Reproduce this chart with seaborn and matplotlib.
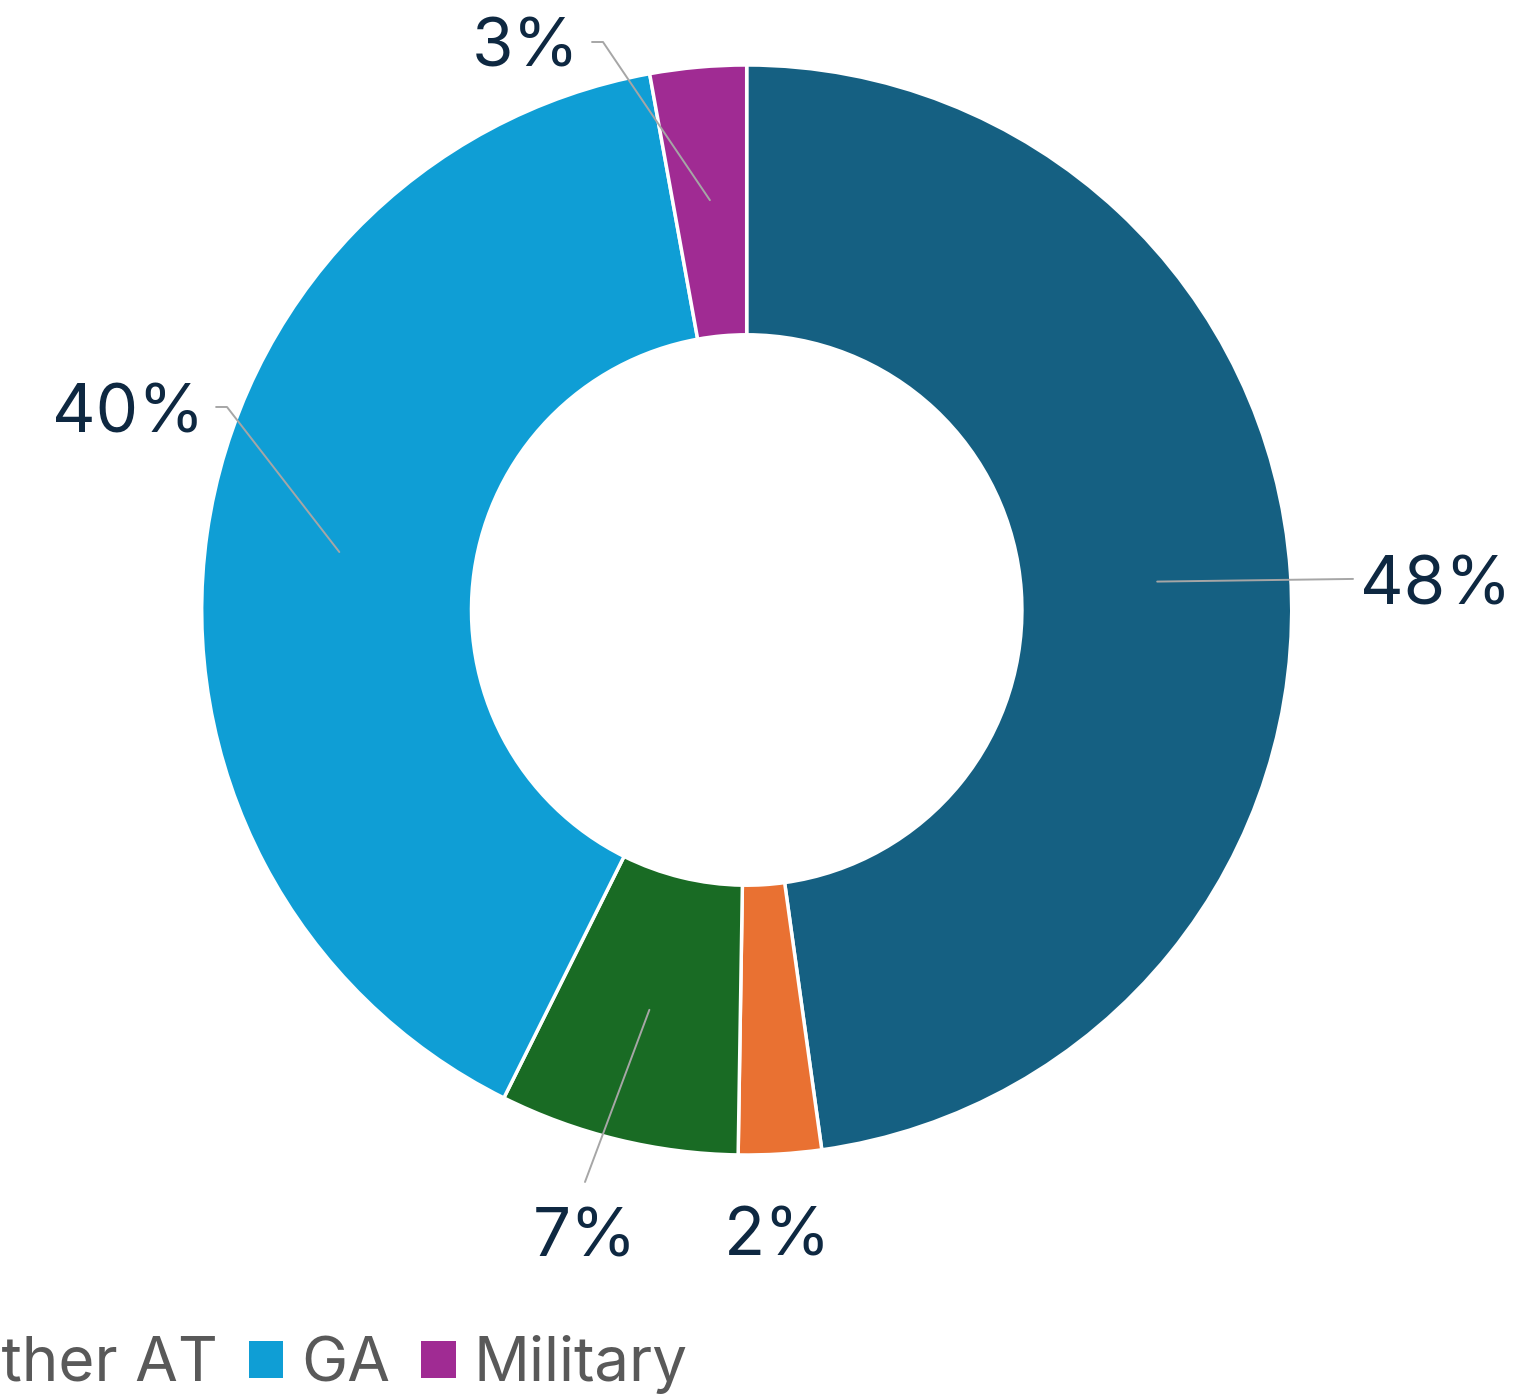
import numpy as np
import matplotlib.pyplot as plt
import seaborn as sns
from matplotlib.patches import Patch

# Data (share of operations)
categories = ["Air Carrier", "Air Taxi", "Other AT", "GA", "Military"]
shares = [47.8, 2.45, 7.1, 39.8, 2.85]
colors = ["#156082", "#E97132", "#196B24", "#0F9ED5", "#A02B93"]

# Label placement (data units, radius 1 = outer ring edge)
label_xy = [(1.125, 0.011), (0.0565, -1.1835), (-0.2976, -1.187), (-0.996, 0.3266), (-0.306, 0.998)]
label_ha = ["left", "center", "center", "right", "right"]
leader_pts = [
    [(1.1125, 0.057)],
    [],
    [(-0.2967, -1.0495)],
    [(-0.9536, 0.3725), (-0.9736, 0.3725)],
    [(-0.2637, 1.0422), (-0.2838, 1.0422)],
]

sns.set_theme(style="white")
plt.rcParams['font.family'] = ['Inter', 'DejaVu Sans']

W, H = 1521, 1394
cx, cy, R = 746.7, 610.0, 545.0

fig = plt.figure(figsize=(W / 100, H / 100), dpi=100)
ax = fig.add_axes([0, 0, 1, 1])

wedges, _ = ax.pie(shares, colors=colors, startangle=90, counterclock=False,
                   radius=1, wedgeprops=dict(width=0.495, edgecolor="white", linewidth=2.5))

# map pixels to data units so the ring sits where it does in the picture
ax.set_xlim(-cx / R, (W - cx) / R)
ax.set_ylim(-(H - cy) / R, cy / R)
ax.set_aspect("auto")
ax.axis("off")

for w, v, (tx, ty), ha, pts in zip(wedges, shares, label_xy, label_ha, leader_pts):
    if pts:
        mid = np.deg2rad((w.theta1 + w.theta2) / 2)
        xs = [0.755 * np.cos(mid)] + [p[0] for p in pts]
        ys = [0.755 * np.sin(mid)] + [p[1] for p in pts]
        ax.plot(xs, ys, color="#A6A6A6", lw=1.4, clip_on=False)
    ax.text(tx, ty, f"{v:.0f}%", ha=ha, va="baseline", fontsize=48.5, color="#0E2841")

handles = [Patch(facecolor=c, edgecolor="none") for c in colors]
fig.legend(handles, categories, loc="center right", bbox_to_anchor=(688 / W, 1 - 1365 / H),
           ncol=5, frameon=False, fontsize=44.6, labelcolor="#595959",
           handlelength=0.56, handleheight=0.56, handletextpad=0.29,
           columnspacing=0.5, borderpad=0, borderaxespad=0)

fig.savefig("out.png", dpi=100)
